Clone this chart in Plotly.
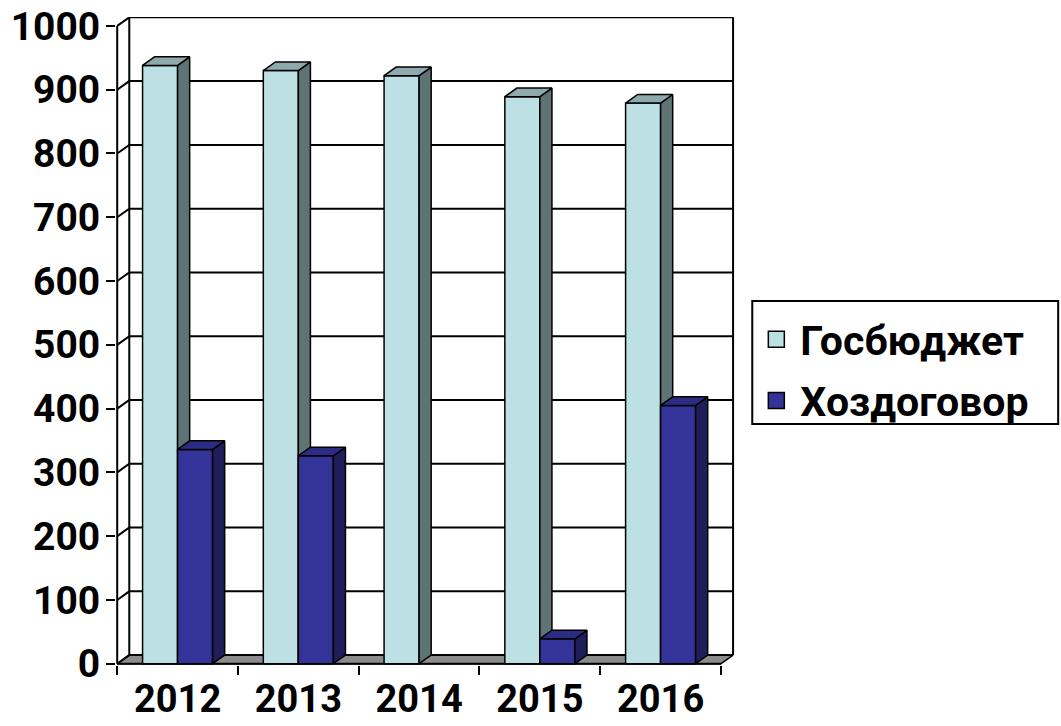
import plotly.graph_objects as go

# Data
years = ["2012", "2013", "2014", "2015", "2016"]
gosbudget = [938, 930, 922, 889, 879]
hozdogovor = [336, 326, 0, 39, 405]
y_ticks = list(range(0, 1001, 100))

series_names = ["Госбюджет", "Хоздоговор"]
series_values = [gosbudget, hozdogovor]

# Styling (front face, side face, top face)
face_colors = [
    ("#BCE0E3", "#5E7374", "#8EAAAD"),
    ("#333399", "#1E1E5A", "#2C2C85"),
]
FONT = "Roboto"
DEPTH_X = 0.1      # oblique depth offset, category units
DEPTH_Y = 13.5     # oblique depth offset, value units
BAR_W = 0.29
GROUP_START = 0.21
N = len(years)
Y_MAX = 1000

fig = go.Figure()


def poly(xs, ys, fill, width=1.5):
    fig.add_trace(go.Scatter(
        x=xs, y=ys, mode="lines", fill="toself", fillcolor=fill,
        line=dict(color="black", width=width),
        hoverinfo="skip", showlegend=False,
    ))


# Floor
poly([0, N, N + DEPTH_X, DEPTH_X, 0], [0, 0, DEPTH_Y, DEPTH_Y, 0], "#8C8C8C", 1.5)

# Walls and gridlines (side wall diagonals + back wall horizontals)
gx, gy = [], []
for v in y_ticks:
    gx += [0, DEPTH_X, N + DEPTH_X, None]
    gy += [v, v + DEPTH_Y, v + DEPTH_Y, None]
gx += [DEPTH_X, DEPTH_X, None, N + DEPTH_X, N + DEPTH_X, None]
gy += [DEPTH_Y, Y_MAX + DEPTH_Y, None, DEPTH_Y, Y_MAX + DEPTH_Y, None]
fig.add_trace(go.Scatter(x=gx, y=gy, mode="lines", line=dict(color="black", width=2),
                         hoverinfo="skip", showlegend=False))

# Front axis lines
fig.add_trace(go.Scatter(x=[0, 0, None, 0, N], y=[0, Y_MAX, None, 0, 0], mode="lines",
                         line=dict(color="black", width=2),
                         hoverinfo="skip", showlegend=False))

# 3D columns
for i in range(N):
    for s, vals in enumerate(series_values):
        v = vals[i]
        if v <= 0:
            continue
        x0 = i + GROUP_START + s * BAR_W
        x1 = x0 + BAR_W
        front, side, top = face_colors[s]
        poly([x0, x1, x1, x0, x0], [0, 0, v, v, 0], front)
        poly([x1, x1 + DEPTH_X, x1 + DEPTH_X, x1, x1],
             [0, DEPTH_Y, v + DEPTH_Y, v, 0], side)
        poly([x0, x1, x1 + DEPTH_X, x0 + DEPTH_X, x0],
             [v, v, v + DEPTH_Y, v + DEPTH_Y, v], top)

# Legend entries
for name, (front, _, _) in zip(series_names, face_colors):
    fig.add_trace(go.Scatter(
        x=[None], y=[None], mode="markers", name=name, legendgroup=name,
        marker=dict(symbol="square", size=20, color=front,
                    line=dict(color="black", width=1.5)),
    ))

# Legend frame
fig.add_shape(type="rect", xref="paper", yref="paper",
              x0=1.0279, x1=1.5221, y0=0.3718, y1=0.5618,
              line=dict(color="black", width=2), fillcolor="rgba(0,0,0,0)",
              layer="above")

fig.update_layout(
    width=1061, height=726,
    paper_bgcolor="white", plot_bgcolor="white",
    margin=dict(l=115.5, r=326.3, t=17.4, b=61.4, pad=0, autoexpand=False),
    font=dict(family=FONT, color="black"),
    xaxis=dict(
        range=[-0.01, 5.116], showgrid=False, zeroline=False, showline=False,
        automargin=False,
        tickvals=[i + 0.5 for i in range(N)], ticktext=years, ticks="",
        tickfont=dict(family=FONT, size=38, color="black", weight="bold"),
        ticklabelstandoff=8,
        minor=dict(tickvals=list(range(N + 1)), ticks="outside", ticklen=9,
                   tickwidth=2, tickcolor="black", showgrid=False),
    ),
    yaxis=dict(
        range=[-2, 1014], showgrid=False, zeroline=False, showline=False,
        automargin=False,
        tickvals=y_ticks, ticktext=[str(v) for v in y_ticks],
        ticks="outside", ticklen=9, tickwidth=2, tickcolor="black",
        tickfont=dict(family=FONT, size=39, color="black", weight="bold"),
        ticklabelstandoff=-2,
    ),
    legend=dict(
        x=1.028, xanchor="left", y=0.4552, yanchor="middle",
        bgcolor="rgba(0,0,0,0)", borderwidth=0,
        font=dict(family=FONT, size=41, color="black", weight="bold"),
        itemsizing="trace", itemwidth=38, tracegroupgap=5,
    ),
    showlegend=True,
)

fig.write_html("out.html")
